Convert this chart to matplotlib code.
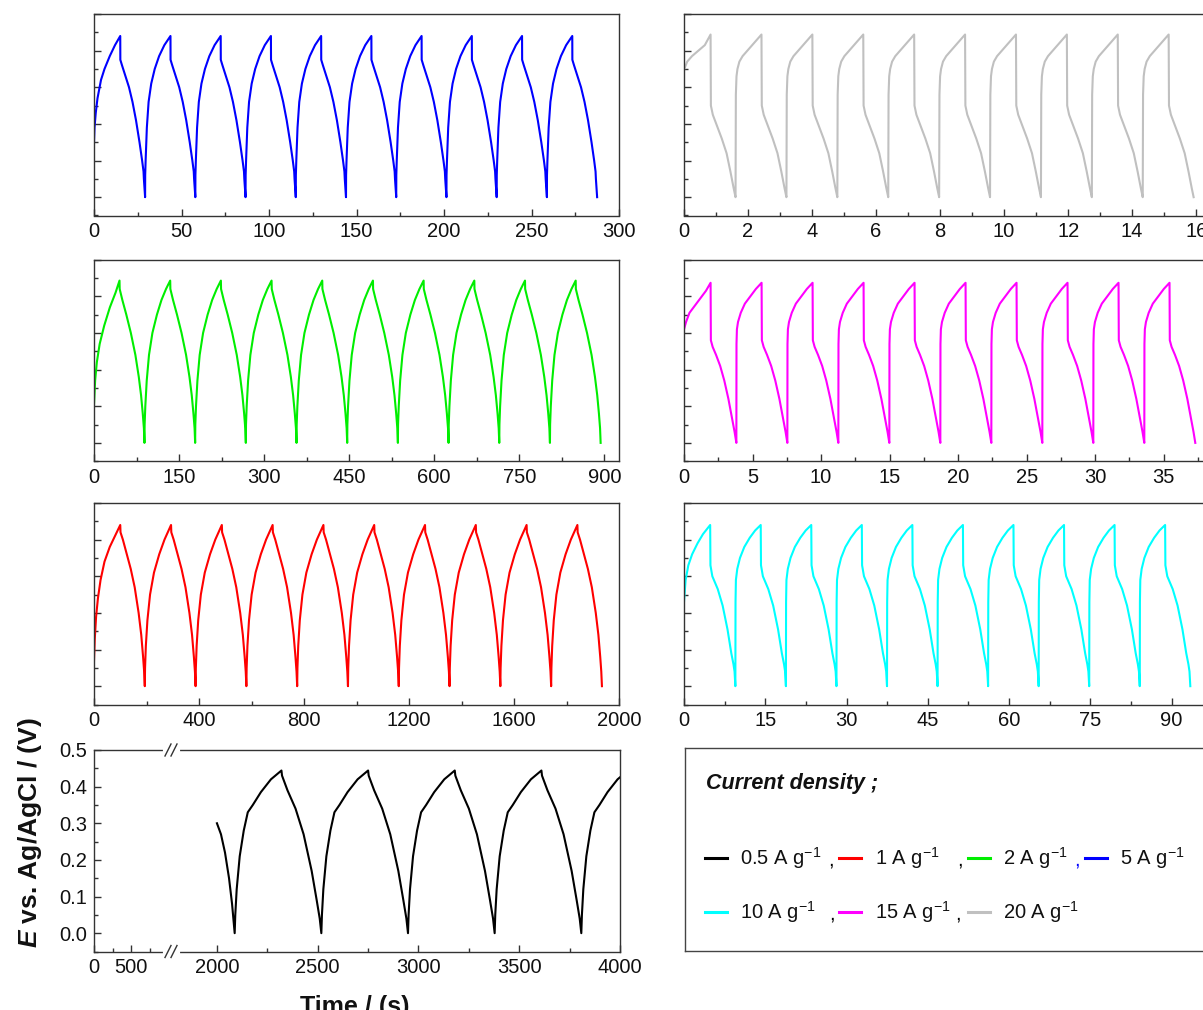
import numpy as np
import matplotlib
matplotlib.use("Agg")
import matplotlib.pyplot as plt
from matplotlib.ticker import MultipleLocator, FixedLocator
from matplotlib.lines import Line2D

plt.rcParams['font.family'] = ['Liberation Sans', 'DejaVu Sans']
plt.rcParams['mathtext.fontset'] = 'custom'
plt.rcParams['mathtext.rm'] = 'Liberation Sans'
plt.rcParams['mathtext.it'] = 'Liberation Sans:bold:italic'
plt.rcParams['mathtext.bf'] = 'Liberation Sans:bold'

# ---- data: head (first partial segment) + one repeating cycle ----
# 5 A/g (blue)
blue_head_t = [0, 0.3, 1, 2, 4, 6, 9, 12, 15]
blue_head_E = [0.15, 0.19, 0.23, 0.27, 0.32, 0.35, 0.385, 0.415, 0.44]
blue_cyc_t = [0, 0.05, 1, 3, 5, 7, 9, 11, 12.5, 13.3, 13.5, 14.2,
              14.25, 14.5, 15.2, 16.2, 17.7, 19.7, 22.2, 25.2, 28.7]
blue_cyc_E = [0.44, 0.375, 0.36, 0.33, 0.30, 0.26, 0.21, 0.15, 0.10, 0.07, 0.05, 0.0,
              0.06, 0.10, 0.19, 0.26, 0.31, 0.35, 0.385, 0.415, 0.44]

# 2 A/g (green)
green_head_t = [0, 2, 5, 10, 18, 28, 38, 45]
green_head_E = [0.105, 0.17, 0.22, 0.27, 0.32, 0.37, 0.41, 0.443]
green_cyc_t = [0, 0.3, 5, 12, 20, 28, 34, 38, 41, 43, 44,
               44.3, 45.5, 48, 52, 58, 66, 74, 82, 89.4]
green_cyc_E = [0.443, 0.42, 0.39, 0.35, 0.30, 0.24, 0.18, 0.13, 0.08, 0.04, 0.0,
               0.05, 0.10, 0.17, 0.24, 0.30, 0.35, 0.39, 0.42, 0.443]

# 1 A/g (red)
red_head_t = [0, 3, 8, 15, 25, 40, 60, 80, 100]
red_head_E = [0.07, 0.13, 0.19, 0.24, 0.29, 0.34, 0.38, 0.41, 0.44]
red_cyc_t = [0, 1, 10, 25, 40, 55, 70, 80, 87, 91, 93.5,
             94.5, 97.5, 103.5, 113.5, 128.5, 148.5, 168.5, 193.5]
red_cyc_E = [0.44, 0.42, 0.40, 0.36, 0.32, 0.27, 0.20, 0.14, 0.08, 0.04, 0.0,
             0.05, 0.11, 0.18, 0.25, 0.31, 0.36, 0.40, 0.44]

# 0.5 A/g (black)
black_head_t = [2000, 2020, 2040, 2060, 2075, 2088]
black_head_E = [0.30, 0.27, 0.22, 0.15, 0.08, 0.0]
black_cyc_t = [0, 3, 10, 25, 45, 65, 90, 130, 180, 232,
               235, 262, 302, 342, 382, 407, 422, 430]
black_cyc_E = [0.0, 0.05, 0.12, 0.21, 0.28, 0.33, 0.35, 0.385, 0.42, 0.444,
               0.43, 0.39, 0.34, 0.27, 0.17, 0.09, 0.04, 0.0]

# 20 A/g (grey)
grey_head_t = [0, 0.1, 0.25, 0.45, 0.65, 0.83]
grey_head_E = [0.348, 0.37, 0.385, 0.40, 0.415, 0.444]
grey_cyc_t = [0, 0.01, 0.07, 0.2, 0.35, 0.5, 0.62, 0.72, 0.78,
              0.79, 0.81, 0.84, 0.9, 1.0, 1.15, 1.3, 1.45, 1.59]
grey_cyc_E = [0.444, 0.25, 0.225, 0.195, 0.16, 0.12, 0.07, 0.025, 0.0,
              0.28, 0.33, 0.35, 0.37, 0.385, 0.40, 0.415, 0.43, 0.444]

# 15 A/g (magenta)
mag_head_t = [0, 0.15, 0.4, 0.8, 1.2, 1.6, 1.94]
mag_head_E = [0.31, 0.33, 0.355, 0.375, 0.395, 0.415, 0.437]
mag_cyc_t = [0, 0.02, 0.15, 0.4, 0.7, 1.0, 1.3, 1.55, 1.75, 1.88,
             1.89, 1.92, 2.0, 2.2, 2.5, 2.9, 3.3, 3.72]
mag_cyc_E = [0.437, 0.28, 0.262, 0.24, 0.21, 0.17, 0.12, 0.07, 0.03, 0.0,
             0.27, 0.31, 0.33, 0.355, 0.38, 0.40, 0.42, 0.437]

# 10 A/g (cyan)
cyan_head_t = [0, 0.3, 0.8, 1.5, 2.5, 3.5, 4.83]
cyan_head_E = [0.23, 0.29, 0.33, 0.36, 0.39, 0.415, 0.44]
cyan_cyc_t = [0, 0.05, 0.4, 1.4, 2.3, 3.2, 3.9, 4.3, 4.5, 4.65,
              4.68, 4.75, 5.0, 5.5, 6.3, 7.3, 8.3, 9.33]
cyan_cyc_E = [0.44, 0.33, 0.30, 0.265, 0.22, 0.155, 0.09, 0.06, 0.04, 0.0,
              0.23, 0.29, 0.32, 0.35, 0.38, 0.405, 0.425, 0.44]


def tile(head_t, head_E, cyc_t, cyc_E, t_end):
    # repeat the measured cycle after the head segment, cut at t_end
    t = list(head_t)
    E = list(head_E)
    ct = np.asarray(cyc_t)
    period = ct[-1]
    t0 = t[-1]
    while t0 < t_end:
        t.extend((t0 + ct[1:]).tolist())
        E.extend(cyc_E[1:])
        t0 += period
    t = np.array(t)
    E = np.array(E)
    keep = t <= t_end + 1e-9
    if not keep.all():
        e_end = np.interp(t_end, t, E)
        t = t[keep]
        E = E[keep]
        if t[-1] < t_end - 1e-9:
            t = np.append(t, t_end)
            E = np.append(E, e_end)
    return t, E


panels = [
    # (color, data, t_end, xmax, major, minor, col, row)
    ('#0000FF', (blue_head_t, blue_head_E, blue_cyc_t, blue_cyc_E), 287.5, 300, 50, 25, 0, 0),
    ('#00EE00', (green_head_t, green_head_E, green_cyc_t, green_cyc_E), 893.6, 926, 150, 75, 0, 1),
    ('#FF0000', (red_head_t, red_head_E, red_cyc_t, red_cyc_E), 1935, 2000, 400, 200, 0, 2),
    ('#C0C0C0', (grey_head_t, grey_head_E, grey_cyc_t, grey_cyc_E), 15.92, 16.4, 2, 1, 1, 0),
    ('#FF00FF', (mag_head_t, mag_head_E, mag_cyc_t, mag_cyc_E), 37.3, 38.3, 5, 2.5, 1, 1),
    ('#00FFFF', (cyan_head_t, cyan_head_E, cyan_cyc_t, cyan_cyc_E), 93.45, 96.9, 15, 7.5, 1, 2),
]

W, H = 1203, 1010
fig = plt.figure(figsize=(W / 100, H / 100), dpi=100)

col_left = [94, 684]
ax_w = 525
row_top = [14, 259.7, 503, 750]
ax_h = 201.5
TICK_FS = 14.5


def rect(x0, ytop, w, h):
    return [x0 / W, 1 - (ytop + h) / H, w / W, h / H]


def style(ax, labels_y=False):
    ax.set_ylim(-0.05, 0.5)
    ax.yaxis.set_major_locator(MultipleLocator(0.1))
    ax.yaxis.set_minor_locator(MultipleLocator(0.05))
    ax.tick_params(which='both', direction='in', top=False, right=False,
                   colors='#333333', labelcolor='#111111', labelsize=TICK_FS, pad=5)
    ax.tick_params(which='major', length=5, width=1)
    ax.tick_params(which='minor', length=3, width=1)
    if not labels_y:
        ax.tick_params(axis='y', labelleft=False)
    for s in ax.spines.values():
        s.set_color('#333333')
        s.set_linewidth(1.0)


for color, data, t_end, xmax, major, minor, col, row in panels:
    ax = fig.add_axes(rect(col_left[col], row_top[row], ax_w, ax_h))
    t, E = tile(*data, t_end)
    ax.plot(t, E, color=color, lw=1.5)
    ax.set_xlim(0, xmax)
    ax.xaxis.set_major_locator(MultipleLocator(major))
    ax.xaxis.set_minor_locator(MultipleLocator(minor))
    style(ax)

# bottom panel with broken time axis (0.5 A/g)
brk = 172
axL = fig.add_axes(rect(94, row_top[3], brk - 94, ax_h))
axR = fig.add_axes(rect(brk, row_top[3], 620 - brk, ax_h))
axL.set_xlim(0, 1050)
style(axL, labels_y=True)
axL.xaxis.set_major_locator(FixedLocator([0, 500]))
axL.xaxis.set_minor_locator(FixedLocator([250, 750]))
axL.spines['right'].set_visible(False)

t, E = tile(black_head_t, black_head_E, black_cyc_t, black_cyc_E, 4000)
axR.plot(t, E, color='black', lw=1.5)
axR.set_xlim(1777, 4000)
style(axR)
axR.xaxis.set_major_locator(FixedLocator([2000, 2500, 3000, 3500, 4000]))
axR.xaxis.set_minor_locator(FixedLocator([2250, 2750, 3250, 3750]))
axR.spines['left'].set_visible(False)
axR.tick_params(axis='y', which='both', left=False)

# break marks
for yy in (row_top[3], row_top[3] + ax_h):
    fig.add_artist(Line2D([(brk - 7) / W, (brk + 6) / W], [1 - yy / H, 1 - yy / H],
                          color='white', lw=3, zorder=5))
    for dx in (-4, 2):
        x = brk + dx
        fig.add_artist(Line2D([(x - 3) / W, (x + 3) / W],
                              [1 - (yy + 6) / H, 1 - (yy - 6) / H],
                              color='#333333', lw=1.0, zorder=6))

fig.text(30 / W, 1 - 833 / H, r'$E$ vs. Ag/AgCl / (V)', rotation=90,
         ha='center', va='center', fontsize=19, fontweight='bold', color='#111111')
fig.text(355 / W, 1 - 1007 / H, 'Time / (s)', ha='center', va='center',
         fontsize=18, fontweight='bold', color='#111111')

# legend box
lx0, ly_top, lw_, lh = 685, 748, 560, 202.7
lax = fig.add_axes(rect(lx0, ly_top, lw_, lh))
lax.set_xlim(lx0, lx0 + lw_)
lax.set_ylim(ly_top + lh, ly_top)
lax.set_xticks([])
lax.set_yticks([])
for s in lax.spines.values():
    s.set_color('#444444')
    s.set_linewidth(1.0)

lax.text(706, 783, 'Current density ;', fontsize=15.5, fontweight='bold',
         fontstyle='italic', va='center', ha='left', color='#111111')

leg_rows = [
    (858, [('black', '0.5 A g$^{-1}$', 705, 740), ('#FF0000', '1 A g$^{-1}$', 839, 875),
           ('#00EE00', '2 A g$^{-1}$', 968, 1003), ('#0000FF', '5 A g$^{-1}$', 1085, 1120)],
     [(828, 'black'), (957, 'black'), (1074, '#0000FF')]),
    (912, [('#00FFFF', '10 A g$^{-1}$', 705, 740), ('#FF00FF', '15 A g$^{-1}$', 839, 875),
           ('#C0C0C0', '20 A g$^{-1}$', 968, 1003)],
     [(829, 'black'), (955, 'black')]),
]
for y, items, commas in leg_rows:
    for c, lab, xl, xt in items:
        lax.plot([xl, xl + 22], [y, y], color=c, lw=2.2)
        lax.text(xt, y, lab, fontsize=14.5, va='center', ha='left', color='#111111')
    for xc, cc in commas:
        lax.text(xc, y + 2, ',', fontsize=14.5, va='center', ha='left', color=cc)

fig.savefig('out.png', dpi=100)
